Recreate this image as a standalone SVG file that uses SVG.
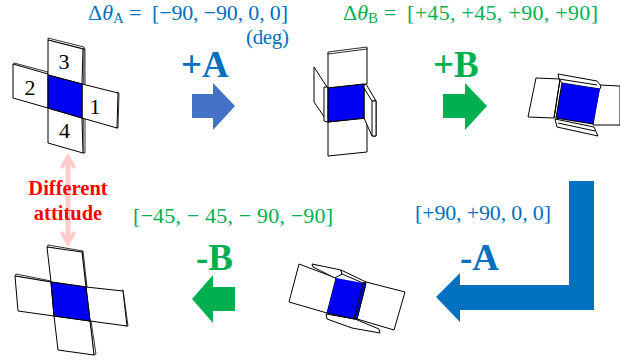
<svg xmlns="http://www.w3.org/2000/svg" width="620" height="362" viewBox="0 0 620 362">
<style>
text{font-family:"Liberation Serif","Times New Roman",serif}
.p{fill:#fff;stroke:#000;stroke-width:1;stroke-linejoin:round}
.t{fill:#fff;stroke:#000;stroke-width:.8;stroke-linejoin:round}
.b{fill:#0000f5;stroke:#000;stroke-width:1.1;stroke-linejoin:round}
.bn{fill:#0000f5}
.n{font-size:22px;fill:#000;text-anchor:middle}
.eq{font-size:22px}
.sub{font-size:15px}
.big{font-size:37px;font-weight:bold}
.blue{fill:#0070C0}
.green{fill:#00B050}
.red{font-size:20.500px;font-weight:bold;fill:#FF0000;text-anchor:middle}
</style>
<rect width="620" height="362" fill="#fff"/>
<g id="connectors">
<g id="pink-arrow" fill="none" stroke="#FFCCCC" stroke-width="5">
<path d="M68 157V243"/>
<path d="M61.500 168L68 157L74.500 168M61.500 232L68 243L74.500 232" stroke-width="4"/>
</g>
<path id="arrow-plus-a" d="M192 94H213V83L235 106L213 130V118H192Z" fill="#4472C4"/>
<path id="arrow-plus-b" d="M443 94H465V83L487 106L465 130V118H443Z" fill="#00B050"/>
<path id="arrow-minus-b" d="M235 287H213V275L192 299L213 323V311H235Z" fill="#00B050"/>
<path id="arrow-minus-a" d="M594 181H569V285H460V273L436 297L460 322V310H594Z" fill="#0070C0"/>
</g>
<g id="node-flat">
<path class="t" d="M48 38L84 47L84 49L48 40Z"/>
<path class="t" d="M84 48L85 49L85 153L83 153Z"/>
<path class="t" d="M14 63L48 72L48 75L13 65Z"/>
<path class="t" d="M117 92L119 93L118 128L116 128Z"/>
<path class="p" d="M48 40L83 49L82 84L48 75Z"/>
<path class="p" d="M13 64L48 74L48 108L13 98Z"/>
<path class="p" d="M82 84L118 93L117 128L82 118Z"/>
<path class="p" d="M48 108L82 118L83 153L48 143Z"/>
<path class="b" d="M48 75L82 84L82 118L48 108Z"/>
<text class="n" x="64" y="69">3</text>
<text class="n" x="30" y="95">2</text>
<text class="n" x="95" y="114">1</text>
<text class="n" x="64.500" y="138">4</text>
</g>
<g id="node-after-a">
<path class="p" d="M314 67L327 87L327 121L314 102Z"/>
<path class="p" d="M324 87L328 87L328 122L324 121Z"/>
<path class="p" d="M328 53L367 48L367 84L328 88Z"/>
<path class="t" d="M328 52L367 47L367 49L328 54Z"/>
<path class="p" d="M328 122L367 118L367 152L328 156Z"/>
<path class="p" d="M364 84L376 101L376 136L372 136L364 118Z"/>
<path class="p" d="M366 84L376 101L372 101L362 85Z"/>
<path class="p" d="M372 101H376V136H372Z"/>
<path class="b" d="M328 88L364 84L364 118L328 122Z"/>
</g>
<g id="node-after-b">
<path class="p" d="M536 78L560 79L554 118L528 117Z"/>
<path class="p" d="M600 85L620 86L620 125L593 125Z"/>
<path class="p" d="M558 74L597 81L601 86L600 89L562 83L559 79Z"/>
<path class="p" d="M559 79L597 85"/>
<path class="p" d="M555 119L557 127L598 136L594 127Z"/>
<path class="p" d="M558 123L595 131"/>
<path class="bn" d="M562 83L600 89L593 124L556 118Z"/>
<path d="M562 83L556 118L593 124" fill="none" stroke="#000" stroke-width="1.100"/>
<path d="M560 80L554 118" fill="none" stroke="#000" stroke-width="1"/>
</g>
<g id="node-after-minus-a">
<path class="p" d="M299 264L336 278L327 313L289 302Z"/>
<path class="p" d="M366 282L405 292L394 330L357 319Z"/>
<path class="p" d="M312 264L341 270L342 274L335 278L313 267Z"/>
<path class="p" d="M341 270L366 282L363 283L342 274Z"/>
<path class="p" d="M326 314L327 319L352 328L380 333L379 329L355 319Z"/>
<path class="bn" d="M336 278L363 283L354 319L327 313Z"/>
<path d="M363 283L366 284L357 319L354 319Z" fill="#0000c8" stroke="#000" stroke-width="0.900"/>
<path d="M327 313L354 319" fill="none" stroke="#000" stroke-width="1.100"/>
</g>
<g id="node-final">
<path class="t" d="M48 245L83 251L82 253L47 247Z"/>
<path class="t" d="M83 251L87 287L86 287L82 252Z"/>
<path class="t" d="M16 274L51 281L51 282L15 276Z"/>
<path class="t" d="M122 290L123 290L128 326L126 326Z"/>
<path class="t" d="M91 321L96 354L94 355L90 321Z"/>
<path class="p" d="M47 247L82 252L86 287L51 282Z"/>
<path class="p" d="M15 276L51 282L54 316L18 311Z"/>
<path class="p" d="M86 287L123 291L127 326L90 321Z"/>
<path class="p" d="M54 316L90 321L94 355L58 350Z"/>
<path class="b" d="M51 282L86 287L90 321L54 316Z"/>
</g>
<g id="labels">
<text class="eq blue" x="88" y="20">Δ<tspan font-style="italic">θ</tspan><tspan class="sub" dy="3">A</tspan><tspan dy="-3" x="129">=</tspan></text>
<text class="eq blue" x="152" y="20" textLength="136">[−90, −90, 0, 0]</text>
<text class="blue" x="246" y="44" font-size="21" textLength="43">(deg)</text>
<text class="eq green" x="343" y="20">Δ<tspan font-style="italic">θ</tspan><tspan class="sub" dy="3">B</tspan><tspan dy="-3" x="384">=</tspan></text>
<text class="eq green" x="407" y="20" textLength="191">[+45, +45, +90, +90]</text>
<text class="eq green" x="133" y="223" textLength="200">[−45, − 45, − 90, −90]</text>
<text class="eq blue" x="415" y="220" textLength="136">[+90, +90, 0, 0]</text>
<text class="big blue" x="181" y="77">+A</text>
<text class="big green" x="433" y="77">+B</text>
<text class="big green" x="196" y="270">-B</text>
<text class="big blue" x="460" y="270">-A</text>
<text class="red" x="68" y="195">Different</text>
<text class="red" x="68" y="220">attitude</text>
</g>
</svg>
